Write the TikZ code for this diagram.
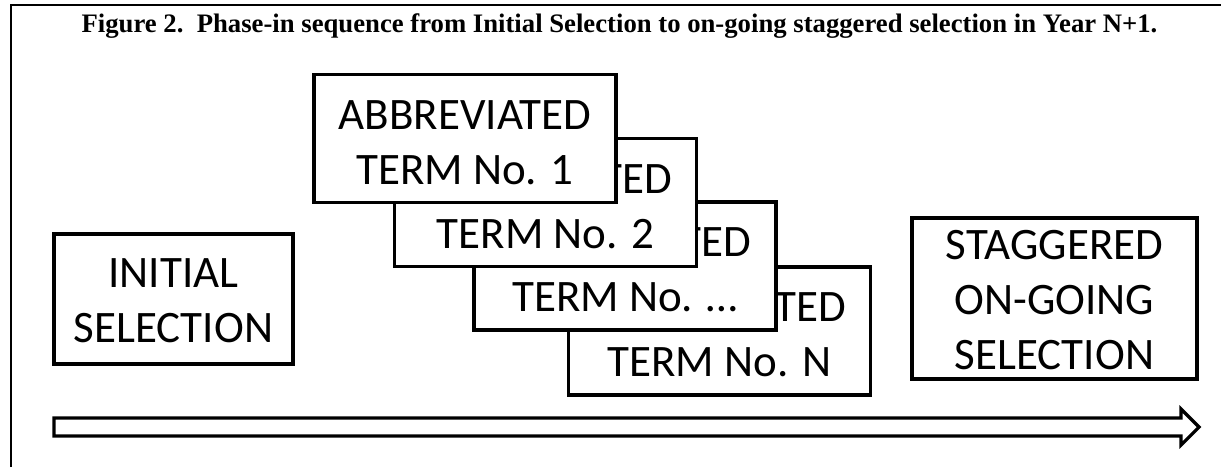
\documentclass[tikz,border=0pt]{standalone}
\usepackage{fontspec}
\setmainfont{Liberation Serif}
\newfontfamily\boxfont{Carlito}
\newcommand\termstrut[1]{\rule{0pt}{#1}}
\begin{document}
\begin{tikzpicture}[x=.5pt, y=-.5pt,
	term/.style={draw, fill=white, line width=1.75pt, inner sep=0pt, align=center,
		font=\boxfont\fontsize{22.5}{27.5}\selectfont,
		minimum width=151pt, minimum height=64pt},
	frame/.style={line width=1pt},
	timeline/.style={line width=1.6pt, fill=white},
]
	\useasboundingbox (0,0) rectangle (1221,467);
	\draw[frame] (11,467) -- (11,5) -- (1221,5);
	\node[font=\bfseries\fontsize{13.35}{15}\selectfont, anchor=base] (title) at (619.5,32)
		{Figure 2.\ \ Phase-in sequence from Initial Selection to on-going staggered selection in Year N+1.};
	\path
		(173.5,299) node[term, minimum width=119.5pt, minimum height=65pt] (init) {\termstrut{16.2pt}INITIAL\\SELECTION}
		(719.5,331) node[term] (termN) {\termstrut{18.2pt}ABBREVIATED\\TERM No. N}
		(625,266) node[term] (termdots) {\termstrut{18.2pt}ABBREVIATED\\TERM No. …}
		(545.5,202.5) node[term] (term2) {\termstrut{18.2pt}ABBREVIATED\\TERM No. 2}
		(465,138.5) node[term] (term1) {\termstrut{18.2pt}ABBREVIATED\\TERM No. 1}
		(1054.5,298.5) node[term, minimum width=142.5pt, minimum height=80.5pt] (stag) {\termstrut{16.2pt}STAGGERED\\ON-GOING\\SELECTION}
	;
	\path
		(54,427) coordinate (tstart)
		(1199,427) coordinate (tend)
	;
	\draw[timeline] (tstart) ++(0,-9) -- ++(1127,0) -- ++(0,-9) -- (tend)
		-- ++(-18,18) -- ++(0,-9) -- ++(-1127,0) -- cycle;
\end{tikzpicture}
\end{document}
